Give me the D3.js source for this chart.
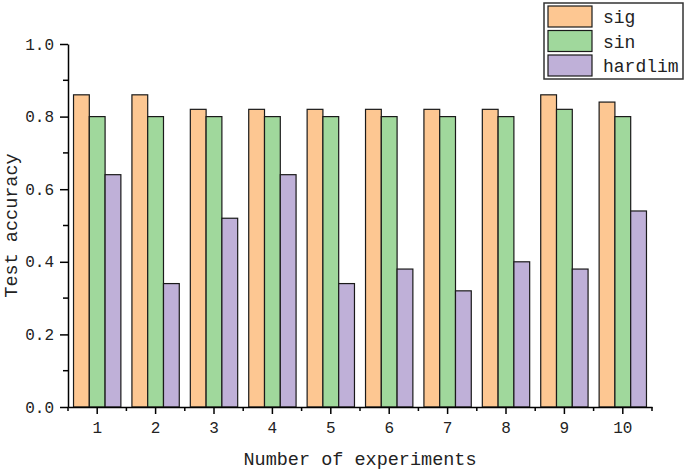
<!DOCTYPE html>
<html>
<head>
<meta charset="utf-8">
<script src="https://cdn.jsdelivr.net/npm/d3@7"></script>
<style>
  body { margin: 0; background: #fff; }
  text { font-family: "Liberation Mono", "DejaVu Sans Mono", monospace; fill: #222; }
</style>
</head>
<body>
<svg id="chart" width="685" height="470"></svg>
<script>
// experiment index and accuracy for each activation function
var experiments = ["1", "2", "3", "4", "5", "6", "7", "8", "9", "10"];
var seriesNames = ["sig", "sin", "hardlim"];
var sigAcc = [0.86, 0.86, 0.82, 0.82, 0.82, 0.82, 0.82, 0.82, 0.86, 0.84];
var sinAcc = [0.80, 0.80, 0.80, 0.80, 0.80, 0.80, 0.80, 0.80, 0.82, 0.80];
var hardlimAcc = [0.64, 0.34, 0.52, 0.64, 0.34, 0.38, 0.32, 0.40, 0.38, 0.54];
var yTicks = [0.0, 0.2, 0.4, 0.6, 0.8, 1.0];
var yMinorTicks = [0.1, 0.3, 0.5, 0.7, 0.9];

var colors = ["#fdc792", "#a0d89c", "#bfb0d8"];
var allSeries = [sigAcc, sinAcc, hardlimAcc];

var svg = d3.select("#chart");
var plotL = 68, plotR = 652, plotT = 44, plotB = 407;

var x = d3.scaleBand().domain(experiments).range([plotL, plotR]).paddingInner(0).paddingOuter(0);
var x1 = d3.scaleBand().domain(seriesNames).range([0, x.bandwidth()]).paddingInner(0).paddingOuter(0.35);
var y = d3.scaleLinear().domain([0, 1]).range([plotB, plotT]);

// bars
var groups = svg.append("g").selectAll("g")
    .data(experiments)
    .enter().append("g")
      .attr("transform", function(d) { return "translate(" + x(d) + ",0)"; });

groups.selectAll("rect")
    .data(function(d, i) { return seriesNames.map(function(s, j) { return {name: s, value: allSeries[j][i], idx: j}; }); })
    .enter().append("rect")
      .attr("x", function(d) { return x1(d.name); })
      .attr("y", function(d) { return y(d.value); })
      .attr("width", x1.bandwidth())
      .attr("height", function(d) { return plotB - y(d.value); })
      .style("fill", function(d) { return colors[d.idx]; })
      .style("stroke", "#1a1a1a")
      .style("stroke-width", 1.2);

// y axis
var yAxis = svg.append("g").attr("transform", "translate(" + plotL + ",0)");
yAxis.call(d3.axisLeft(y).tickValues(yTicks).tickFormat(d3.format(".1f")).tickSize(8).tickPadding(6).tickSizeOuter(0));
yAxis.selectAll("text").style("font-size", "16px");
yAxis.append("g").selectAll("line")
    .data(yMinorTicks)
    .enter().append("line")
      .attr("x1", -5).attr("x2", 0)
      .attr("y1", function(d) { return y(d); }).attr("y2", function(d) { return y(d); })
      .style("stroke", "#000").style("stroke-width", 1.5);

// x axis
var xAxis = svg.append("g").attr("transform", "translate(0," + plotB + ")");
xAxis.call(d3.axisBottom(x).tickSize(7).tickPadding(8).tickSizeOuter(0));
xAxis.selectAll("text").style("font-size", "16px");
xAxis.append("g").selectAll("line")
    .data(experiments)
    .enter().append("line")
      .attr("x1", function(d) { return x(d); }).attr("x2", function(d) { return x(d); })
      .attr("y1", 0).attr("y2", 4)
      .style("stroke", "#000").style("stroke-width", 1.5);
xAxis.append("line")
    .attr("x1", plotR).attr("x2", plotR).attr("y1", 0).attr("y2", 4)
    .style("stroke", "#000").style("stroke-width", 1.5);

svg.selectAll(".domain").style("stroke", "#000").style("stroke-width", 1.5);
svg.selectAll(".tick line").style("stroke", "#000").style("stroke-width", 1.5);

// axis titles
svg.append("text")
    .attr("x", (plotL + plotR) / 2)
    .attr("y", 465)
    .attr("text-anchor", "middle")
    .style("font-size", "18.5px")
    .text("Number of experiments");

svg.append("text")
    .attr("transform", "translate(17," + ((plotT + plotB) / 2) + ") rotate(-90)")
    .attr("text-anchor", "middle")
    .style("font-size", "18.5px")
    .text("Test accuracy");

// legend
var legend = svg.append("g").attr("transform", "translate(544,3)");
legend.append("rect")
    .attr("x", 0).attr("y", 0).attr("width", 139).attr("height", 76)
    .style("fill", "#fff").style("stroke", "#333").style("stroke-width", 1.5);
var items = legend.selectAll("g.item")
    .data(seriesNames)
    .enter().append("g")
      .attr("class", "item")
      .attr("transform", function(d, i) { return "translate(4," + (3 + i * 24.5) + ")"; });
items.append("rect")
    .attr("width", 44).attr("height", 21)
    .style("fill", function(d, i) { return colors[i]; })
    .style("stroke", "#1a1a1a").style("stroke-width", 1.2);
items.append("text")
    .attr("x", 55).attr("y", 11)
    .attr("dy", "0.35em")
    .style("font-size", "18px")
    .text(function(d) { return d; });
</script>
</body>
</html>
